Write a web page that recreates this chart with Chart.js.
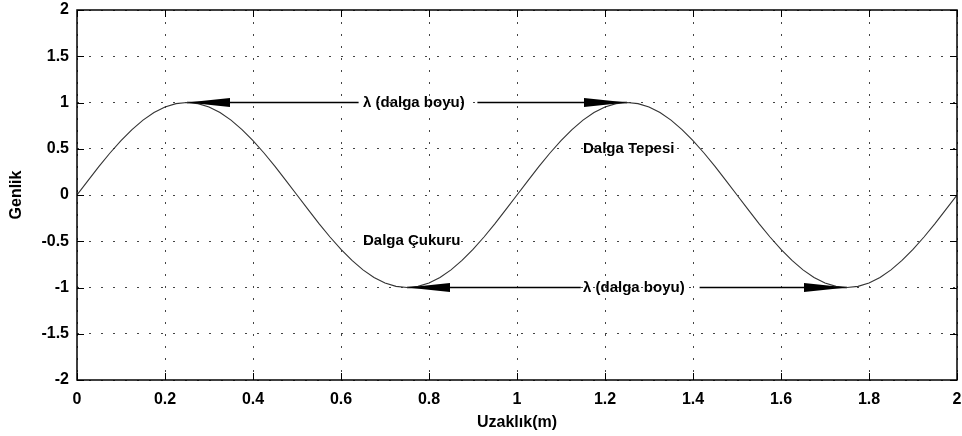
<!DOCTYPE html>
<html>
<head>
<meta charset="utf-8">
<script src="https://cdn.jsdelivr.net/npm/chart.js@4/dist/chart.umd.min.js"></script>
<style>
    html, body { margin: 0; padding: 0; background: #fff; }
</style>
</head>
<body>
<canvas id="dalgaGrafik" width="962" height="436"></canvas>
<script>
// Veriler
const uzaklik = [
    0, 0.025, 0.05, 0.075, 0.1, 0.125, 0.15, 0.175, 0.2, 0.225,
    0.25, 0.275, 0.3, 0.325, 0.35, 0.375, 0.4, 0.425, 0.45, 0.475,
    0.5, 0.525, 0.55, 0.575, 0.6, 0.625, 0.65, 0.675, 0.7, 0.725,
    0.75, 0.775, 0.8, 0.825, 0.85, 0.875, 0.9, 0.925, 0.95, 0.975,
    1, 1.025, 1.05, 1.075, 1.1, 1.125, 1.15, 1.175, 1.2, 1.225,
    1.25, 1.275, 1.3, 1.325, 1.35, 1.375, 1.4, 1.425, 1.45, 1.475,
    1.5, 1.525, 1.55, 1.575, 1.6, 1.625, 1.65, 1.675, 1.7, 1.725,
    1.75, 1.775, 1.8, 1.825, 1.85, 1.875, 1.9, 1.925, 1.95, 1.975, 2
];
const genlik = [
    0, 0.156, 0.309, 0.454, 0.588, 0.707, 0.809, 0.891, 0.951, 0.988,
    1, 0.988, 0.951, 0.891, 0.809, 0.707, 0.588, 0.454, 0.309, 0.156,
    0, -0.156, -0.309, -0.454, -0.588, -0.707, -0.809, -0.891, -0.951, -0.988,
    -1, -0.988, -0.951, -0.891, -0.809, -0.707, -0.588, -0.454, -0.309, -0.156,
    0, 0.156, 0.309, 0.454, 0.588, 0.707, 0.809, 0.891, 0.951, 0.988,
    1, 0.988, 0.951, 0.891, 0.809, 0.707, 0.588, 0.454, 0.309, 0.156,
    0, -0.156, -0.309, -0.454, -0.588, -0.707, -0.809, -0.891, -0.951, -0.988,
    -1, -0.988, -0.951, -0.891, -0.809, -0.707, -0.588, -0.454, -0.309, -0.156, 0
];

const xEtiketleri = [0, 0.2, 0.4, 0.6, 0.8, 1, 1.2, 1.4, 1.6, 1.8, 2];
const yEtiketleri = [-2, -1.5, -1, -0.5, 0, 0.5, 1, 1.5, 2];

// Oklar (dalga boyu)
const okY = [1, -1];
const okBas = [0.25, 0.75];
const okSon = [1.25, 1.75];
const okKesBas = [0.64, 1.145];   // çizginin yazıdan önce bittiği yer
const okKesSon = [0.91, 1.415];   // yazıdan sonra başladığı yer

// Yazılar
const yazilar = ["λ (dalga boyu)", "λ (dalga boyu)", "Dalga Tepesi", "Dalga Çukuru"];
const yaziX = [0.65, 1.15, 1.15, 0.65];
const yaziY = [1, -1, 0.5, -0.5];

const FONT = '"Liberation Sans", Arial, sans-serif';

// Dalga veri seti + ok çizgileri
const veriSetleri = [{
    data: uzaklik.map((x, i) => ({ x: x, y: genlik[i] })),
    borderColor: "#333",
    borderWidth: 1.1,
    pointRadius: 0,
    tension: 0
}];
okY.forEach((y, i) => {
    veriSetleri.push({
        data: [{ x: okBas[i], y: y }, { x: okKesBas[i], y: y }],
        borderColor: "#000", borderWidth: 1.5, pointRadius: 0
    });
    veriSetleri.push({
        data: [{ x: okKesSon[i], y: y }, { x: okSon[i], y: y }],
        borderColor: "#000", borderWidth: 1.5, pointRadius: 0
    });
});

// Çerçeve, içe dönük tikler, ok uçları, yazılar
const cizimEklentisi = {
    id: "cizimler",
    afterDatasetsDraw(chart) {
        const ctx = chart.ctx;
        const xs = chart.scales.x, ys = chart.scales.y;
        const a = chart.chartArea;
        ctx.save();

        // ok uçları
        ctx.fillStyle = "#000";
        okY.forEach((y, i) => {
            const py = ys.getPixelForValue(y);
            const p1 = xs.getPixelForValue(okBas[i]);
            const p2 = xs.getPixelForValue(okSon[i]);
            ctx.beginPath();
            ctx.moveTo(p1, py);
            ctx.lineTo(p1 + 43, py - 4.5);
            ctx.lineTo(p1 + 43, py + 4.5);
            ctx.closePath();
            ctx.fill();
            ctx.beginPath();
            ctx.moveTo(p2, py);
            ctx.lineTo(p2 - 43, py - 4.5);
            ctx.lineTo(p2 - 43, py + 4.5);
            ctx.closePath();
            ctx.fill();
        });

        // yazılar
        ctx.font = "bold 15px " + FONT;
        ctx.textAlign = "left";
        ctx.textBaseline = "middle";
        yazilar.forEach((t, i) => {
            ctx.fillText(t, xs.getPixelForValue(yaziX[i]), ys.getPixelForValue(yaziY[i]));
        });

        // tikler
        ctx.strokeStyle = "#000";
        ctx.lineWidth = 1;
        ctx.beginPath();
        xEtiketleri.forEach(v => {
            const px = Math.round(xs.getPixelForValue(v)) + 0.5;
            ctx.moveTo(px, a.bottom); ctx.lineTo(px, a.bottom - 7);
            ctx.moveTo(px, a.top); ctx.lineTo(px, a.top + 7);
        });
        yEtiketleri.forEach(v => {
            const py = Math.round(ys.getPixelForValue(v)) + 0.5;
            ctx.moveTo(a.left, py); ctx.lineTo(a.left + 7, py);
            ctx.moveTo(a.right, py); ctx.lineTo(a.right - 7, py);
        });
        ctx.stroke();

        // çerçeve
        ctx.lineWidth = 1.5;
        ctx.strokeRect(a.left, a.top, a.right - a.left, a.bottom - a.top);

        // eksen başlıkları
        ctx.font = "bold 16px " + FONT;
        ctx.textAlign = "center";
        ctx.textBaseline = "middle";
        ctx.fillText("Uzaklık(m)", (a.left + a.right) / 2, 423);
        ctx.translate(17, (a.top + a.bottom) / 2);
        ctx.rotate(-Math.PI / 2);
        ctx.fillText("Genlik", 0, 0);
        ctx.restore();
    }
};

new Chart(document.getElementById("dalgaGrafik"), {
    type: "line",
    data: { datasets: veriSetleri },
    options: {
        responsive: false,
        animation: false,
        devicePixelRatio: 1,
        layout: { padding: { top: 10, right: 5, left: 0, bottom: 0 } },
        plugins: { legend: { display: false }, tooltip: { enabled: false } },
        scales: {
            x: {
                type: "linear",
                min: 0, max: 2,
                afterBuildTicks: s => { s.ticks = xEtiketleri.map(v => ({ value: v })); },
                afterFit: s => { s.height = 56; s.paddingLeft = 0; s.paddingRight = 0; },
                ticks: {
                    color: "#000",
                    font: { family: FONT, size: 16, weight: "bold" },
                    padding: 10,
                    maxRotation: 0,
                    callback: v => String(v)
                },
                grid: { color: "#444", lineWidth: 1, drawTicks: false },
                border: { display: false, dash: [2, 10] }
            },
            y: {
                min: -2, max: 2,
                afterBuildTicks: s => { s.ticks = yEtiketleri.map(v => ({ value: v })); },
                afterFit: s => { s.width = 77; s.paddingTop = 0; s.paddingBottom = 0; },
                ticks: {
                    color: "#000",
                    font: { family: FONT, size: 16, weight: "bold" },
                    padding: 8,
                    callback: v => String(v)
                },
                grid: { color: "#444", lineWidth: 1, drawTicks: false },
                border: { display: false, dash: [2, 10] }
            }
        }
    },
    plugins: [cizimEklentisi]
});
</script>
</body>
</html>
